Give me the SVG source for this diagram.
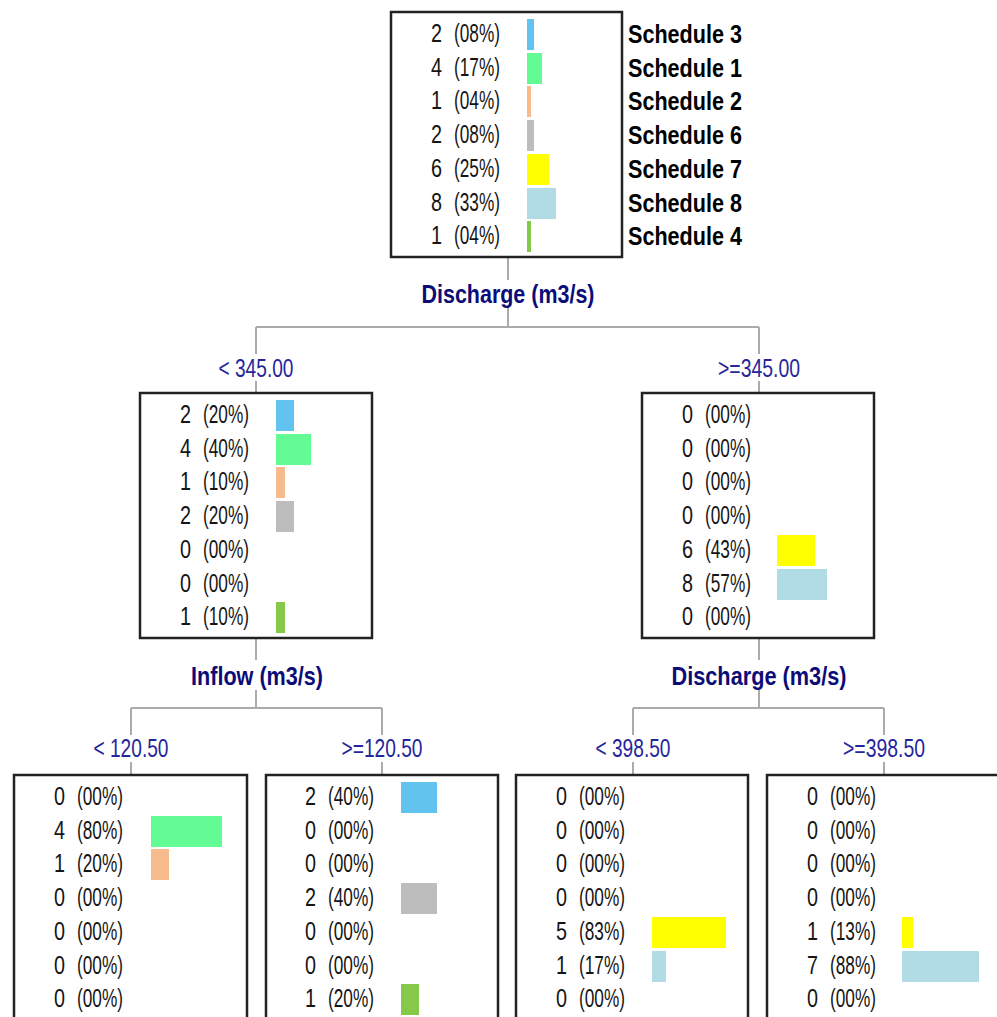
<svg xmlns="http://www.w3.org/2000/svg" width="997" height="1017" viewBox="0 0 997 1017">
<style>
  .box { fill: #ffffff; stroke: #222222; stroke-width: 2.5; }
  .n { font-family: "Liberation Sans", Arial, sans-serif; font-size: 25px; fill: #151515; }
  .leg { font-family: "Liberation Sans", Arial, sans-serif; font-size: 26px; font-weight: bold; fill: #000000; }
  .split { font-family: "Liberation Sans", Arial, sans-serif; font-size: 26px; font-weight: bold; fill: #0c0c78; text-anchor: middle; }
  .thr { font-family: "Liberation Sans", Arial, sans-serif; font-size: 26px; fill: #26269c; text-anchor: middle; }
  .conn { stroke: #ababab; stroke-width: 2; fill: none; }
  .s3 { fill: #62c4ee; }
  .s1 { fill: #62fb94; }
  .s2 { fill: #f7bb8e; }
  .s6 { fill: #bdbdbd; }
  .s7 { fill: #ffff00; }
  .s8 { fill: #b1dbe5; }
  .s4 { fill: #86c94a; }
</style>

<!-- tree connectors -->
<g id="connectors" class="conn">
  <path d="M508 257 V280 M508 306 V327 M256 327 H759 M256 327 V354 M759 327 V354 M256 381 V393 M759 381 V393"/>
  <path d="M256 638 V660 M256 690 V708 M131 708 H382 M131 708 V735 M382 708 V735 M131 762 V775 M382 762 V775"/>
  <path d="M759 638 V660 M759 690 V708 M633 708 H884 M633 708 V735 M884 708 V735 M633 762 V775 M884 762 V775"/>
</g>

<!-- split labels -->
<g id="labels">
  <text class="split" x="508" y="303" textLength="173" lengthAdjust="spacingAndGlyphs">Discharge (m3/s)</text>
  <text class="thr" x="256" y="377" textLength="75" lengthAdjust="spacingAndGlyphs">&lt; 345.00</text>
  <text class="thr" x="759" y="377" textLength="82" lengthAdjust="spacingAndGlyphs">&gt;=345.00</text>
  <text class="split" x="257" y="685" textLength="132" lengthAdjust="spacingAndGlyphs">Inflow (m3/s)</text>
  <text class="split" x="759" y="685" textLength="175" lengthAdjust="spacingAndGlyphs">Discharge (m3/s)</text>
  <text class="thr" x="131" y="757" textLength="75" lengthAdjust="spacingAndGlyphs">&lt; 120.50</text>
  <text class="thr" x="382" y="757" textLength="81" lengthAdjust="spacingAndGlyphs">&gt;=120.50</text>
  <text class="thr" x="633" y="757" textLength="75" lengthAdjust="spacingAndGlyphs">&lt; 398.50</text>
  <text class="thr" x="884" y="757" textLength="82" lengthAdjust="spacingAndGlyphs">&gt;=398.50</text>
</g>

<!-- root node -->
<g id="node-root">
  <rect class="box" x="391" y="12" width="231" height="245"/>
  <rect class="s3" x="527" y="19" width="7" height="31"/>
  <rect class="s1" x="527" y="53" width="15" height="31"/>
  <rect class="s2" x="527" y="86" width="4" height="31"/>
  <rect class="s6" x="527" y="120" width="7" height="31"/>
  <rect class="s7" x="527" y="154" width="22" height="31"/>
  <rect class="s8" x="527" y="188" width="29" height="31"/>
  <rect class="s4" x="527" y="221" width="4" height="31"/>
  <g class="n" transform="translate(0,-1)">
    <text x="431" y="43" textLength="11" lengthAdjust="spacingAndGlyphs">2</text><text x="454" y="43" textLength="46" lengthAdjust="spacingAndGlyphs">(08%)</text>
    <text x="431" y="77" textLength="11" lengthAdjust="spacingAndGlyphs">4</text><text x="454" y="77" textLength="46" lengthAdjust="spacingAndGlyphs">(17%)</text>
    <text x="431" y="110" textLength="11" lengthAdjust="spacingAndGlyphs">1</text><text x="454" y="110" textLength="46" lengthAdjust="spacingAndGlyphs">(04%)</text>
    <text x="431" y="144" textLength="11" lengthAdjust="spacingAndGlyphs">2</text><text x="454" y="144" textLength="46" lengthAdjust="spacingAndGlyphs">(08%)</text>
    <text x="431" y="178" textLength="11" lengthAdjust="spacingAndGlyphs">6</text><text x="454" y="178" textLength="46" lengthAdjust="spacingAndGlyphs">(25%)</text>
    <text x="431" y="212" textLength="11" lengthAdjust="spacingAndGlyphs">8</text><text x="454" y="212" textLength="46" lengthAdjust="spacingAndGlyphs">(33%)</text>
    <text x="431" y="245" textLength="11" lengthAdjust="spacingAndGlyphs">1</text><text x="454" y="245" textLength="46" lengthAdjust="spacingAndGlyphs">(04%)</text>
  </g>
  <g class="leg">
    <text x="628" y="43" textLength="114" lengthAdjust="spacingAndGlyphs">Schedule 3</text>
    <text x="628" y="77" textLength="114" lengthAdjust="spacingAndGlyphs">Schedule 1</text>
    <text x="628" y="110" textLength="114" lengthAdjust="spacingAndGlyphs">Schedule 2</text>
    <text x="628" y="144" textLength="114" lengthAdjust="spacingAndGlyphs">Schedule 6</text>
    <text x="628" y="178" textLength="114" lengthAdjust="spacingAndGlyphs">Schedule 7</text>
    <text x="628" y="212" textLength="114" lengthAdjust="spacingAndGlyphs">Schedule 8</text>
    <text x="628" y="245" textLength="114" lengthAdjust="spacingAndGlyphs">Schedule 4</text>
  </g>
</g>

<!-- discharge < 345.00 -->
<g id="node-l">
  <rect class="box" x="140" y="393" width="232" height="245"/>
  <rect class="s3" x="276" y="400" width="18" height="31"/>
  <rect class="s1" x="276" y="434" width="35" height="31"/>
  <rect class="s2" x="276" y="467" width="9" height="31"/>
  <rect class="s6" x="276" y="501" width="18" height="31"/>
  <rect class="s4" x="276" y="602" width="9" height="31"/>
  <g class="n" transform="translate(0,-1)">
    <text x="180" y="424" textLength="11" lengthAdjust="spacingAndGlyphs">2</text><text x="203" y="424" textLength="46" lengthAdjust="spacingAndGlyphs">(20%)</text>
    <text x="180" y="458" textLength="11" lengthAdjust="spacingAndGlyphs">4</text><text x="203" y="458" textLength="46" lengthAdjust="spacingAndGlyphs">(40%)</text>
    <text x="180" y="491" textLength="11" lengthAdjust="spacingAndGlyphs">1</text><text x="203" y="491" textLength="46" lengthAdjust="spacingAndGlyphs">(10%)</text>
    <text x="180" y="525" textLength="11" lengthAdjust="spacingAndGlyphs">2</text><text x="203" y="525" textLength="46" lengthAdjust="spacingAndGlyphs">(20%)</text>
    <text x="180" y="559" textLength="11" lengthAdjust="spacingAndGlyphs">0</text><text x="203" y="559" textLength="46" lengthAdjust="spacingAndGlyphs">(00%)</text>
    <text x="180" y="593" textLength="11" lengthAdjust="spacingAndGlyphs">0</text><text x="203" y="593" textLength="46" lengthAdjust="spacingAndGlyphs">(00%)</text>
    <text x="180" y="626" textLength="11" lengthAdjust="spacingAndGlyphs">1</text><text x="203" y="626" textLength="46" lengthAdjust="spacingAndGlyphs">(10%)</text>
  </g>
</g>

<!-- discharge >= 345.00 -->
<g id="node-r">
  <rect class="box" x="642" y="393" width="232" height="245"/>
  <rect class="s7" x="777" y="535" width="38" height="31"/>
  <rect class="s8" x="777" y="569" width="50" height="31"/>
  <g class="n" transform="translate(0,-1)">
    <text x="682" y="424" textLength="11" lengthAdjust="spacingAndGlyphs">0</text><text x="705" y="424" textLength="46" lengthAdjust="spacingAndGlyphs">(00%)</text>
    <text x="682" y="458" textLength="11" lengthAdjust="spacingAndGlyphs">0</text><text x="705" y="458" textLength="46" lengthAdjust="spacingAndGlyphs">(00%)</text>
    <text x="682" y="491" textLength="11" lengthAdjust="spacingAndGlyphs">0</text><text x="705" y="491" textLength="46" lengthAdjust="spacingAndGlyphs">(00%)</text>
    <text x="682" y="525" textLength="11" lengthAdjust="spacingAndGlyphs">0</text><text x="705" y="525" textLength="46" lengthAdjust="spacingAndGlyphs">(00%)</text>
    <text x="682" y="559" textLength="11" lengthAdjust="spacingAndGlyphs">6</text><text x="705" y="559" textLength="46" lengthAdjust="spacingAndGlyphs">(43%)</text>
    <text x="682" y="593" textLength="11" lengthAdjust="spacingAndGlyphs">8</text><text x="705" y="593" textLength="46" lengthAdjust="spacingAndGlyphs">(57%)</text>
    <text x="682" y="626" textLength="11" lengthAdjust="spacingAndGlyphs">0</text><text x="705" y="626" textLength="46" lengthAdjust="spacingAndGlyphs">(00%)</text>
  </g>
</g>

<!-- inflow < 120.50 -->
<g id="node-ll">
  <rect class="box" x="14" y="775" width="233" height="250"/>
  <rect class="s1" x="151" y="816" width="71" height="31"/>
  <rect class="s2" x="151" y="849" width="18" height="31"/>
  <g class="n" transform="translate(0,-1)">
    <text x="54" y="806" textLength="11" lengthAdjust="spacingAndGlyphs">0</text><text x="77" y="806" textLength="46" lengthAdjust="spacingAndGlyphs">(00%)</text>
    <text x="54" y="840" textLength="11" lengthAdjust="spacingAndGlyphs">4</text><text x="77" y="840" textLength="46" lengthAdjust="spacingAndGlyphs">(80%)</text>
    <text x="54" y="873" textLength="11" lengthAdjust="spacingAndGlyphs">1</text><text x="77" y="873" textLength="46" lengthAdjust="spacingAndGlyphs">(20%)</text>
    <text x="54" y="907" textLength="11" lengthAdjust="spacingAndGlyphs">0</text><text x="77" y="907" textLength="46" lengthAdjust="spacingAndGlyphs">(00%)</text>
    <text x="54" y="941" textLength="11" lengthAdjust="spacingAndGlyphs">0</text><text x="77" y="941" textLength="46" lengthAdjust="spacingAndGlyphs">(00%)</text>
    <text x="54" y="975" textLength="11" lengthAdjust="spacingAndGlyphs">0</text><text x="77" y="975" textLength="46" lengthAdjust="spacingAndGlyphs">(00%)</text>
    <text x="54" y="1008" textLength="11" lengthAdjust="spacingAndGlyphs">0</text><text x="77" y="1008" textLength="46" lengthAdjust="spacingAndGlyphs">(00%)</text>
  </g>
</g>

<!-- inflow >= 120.50 -->
<g id="node-lr">
  <rect class="box" x="266" y="775" width="232" height="250"/>
  <rect class="s3" x="401" y="782" width="36" height="31"/>
  <rect class="s6" x="401" y="883" width="36" height="31"/>
  <rect class="s4" x="401" y="984" width="18" height="31"/>
  <g class="n" transform="translate(0,-1)">
    <text x="305" y="806" textLength="11" lengthAdjust="spacingAndGlyphs">2</text><text x="328" y="806" textLength="46" lengthAdjust="spacingAndGlyphs">(40%)</text>
    <text x="305" y="840" textLength="11" lengthAdjust="spacingAndGlyphs">0</text><text x="328" y="840" textLength="46" lengthAdjust="spacingAndGlyphs">(00%)</text>
    <text x="305" y="873" textLength="11" lengthAdjust="spacingAndGlyphs">0</text><text x="328" y="873" textLength="46" lengthAdjust="spacingAndGlyphs">(00%)</text>
    <text x="305" y="907" textLength="11" lengthAdjust="spacingAndGlyphs">2</text><text x="328" y="907" textLength="46" lengthAdjust="spacingAndGlyphs">(40%)</text>
    <text x="305" y="941" textLength="11" lengthAdjust="spacingAndGlyphs">0</text><text x="328" y="941" textLength="46" lengthAdjust="spacingAndGlyphs">(00%)</text>
    <text x="305" y="975" textLength="11" lengthAdjust="spacingAndGlyphs">0</text><text x="328" y="975" textLength="46" lengthAdjust="spacingAndGlyphs">(00%)</text>
    <text x="305" y="1008" textLength="11" lengthAdjust="spacingAndGlyphs">1</text><text x="328" y="1008" textLength="46" lengthAdjust="spacingAndGlyphs">(20%)</text>
  </g>
</g>

<!-- discharge < 398.50 -->
<g id="node-rl">
  <rect class="box" x="516" y="775" width="232" height="250"/>
  <rect class="s7" x="652" y="917" width="74" height="31"/>
  <rect class="s8" x="652" y="951" width="14" height="31"/>
  <g class="n" transform="translate(0,-1)">
    <text x="556" y="806" textLength="11" lengthAdjust="spacingAndGlyphs">0</text><text x="579" y="806" textLength="46" lengthAdjust="spacingAndGlyphs">(00%)</text>
    <text x="556" y="840" textLength="11" lengthAdjust="spacingAndGlyphs">0</text><text x="579" y="840" textLength="46" lengthAdjust="spacingAndGlyphs">(00%)</text>
    <text x="556" y="873" textLength="11" lengthAdjust="spacingAndGlyphs">0</text><text x="579" y="873" textLength="46" lengthAdjust="spacingAndGlyphs">(00%)</text>
    <text x="556" y="907" textLength="11" lengthAdjust="spacingAndGlyphs">0</text><text x="579" y="907" textLength="46" lengthAdjust="spacingAndGlyphs">(00%)</text>
    <text x="556" y="941" textLength="11" lengthAdjust="spacingAndGlyphs">5</text><text x="579" y="941" textLength="46" lengthAdjust="spacingAndGlyphs">(83%)</text>
    <text x="556" y="975" textLength="11" lengthAdjust="spacingAndGlyphs">1</text><text x="579" y="975" textLength="46" lengthAdjust="spacingAndGlyphs">(17%)</text>
    <text x="556" y="1008" textLength="11" lengthAdjust="spacingAndGlyphs">0</text><text x="579" y="1008" textLength="46" lengthAdjust="spacingAndGlyphs">(00%)</text>
  </g>
</g>

<!-- discharge >= 398.50 -->
<g id="node-rr">
  <rect class="box" x="767" y="775" width="234" height="250"/>
  <rect class="s7" x="902" y="917" width="11" height="31"/>
  <rect class="s8" x="902" y="951" width="77" height="31"/>
  <g class="n" transform="translate(0,-1)">
    <text x="807" y="806" textLength="11" lengthAdjust="spacingAndGlyphs">0</text><text x="830" y="806" textLength="46" lengthAdjust="spacingAndGlyphs">(00%)</text>
    <text x="807" y="840" textLength="11" lengthAdjust="spacingAndGlyphs">0</text><text x="830" y="840" textLength="46" lengthAdjust="spacingAndGlyphs">(00%)</text>
    <text x="807" y="873" textLength="11" lengthAdjust="spacingAndGlyphs">0</text><text x="830" y="873" textLength="46" lengthAdjust="spacingAndGlyphs">(00%)</text>
    <text x="807" y="907" textLength="11" lengthAdjust="spacingAndGlyphs">0</text><text x="830" y="907" textLength="46" lengthAdjust="spacingAndGlyphs">(00%)</text>
    <text x="807" y="941" textLength="11" lengthAdjust="spacingAndGlyphs">1</text><text x="830" y="941" textLength="46" lengthAdjust="spacingAndGlyphs">(13%)</text>
    <text x="807" y="975" textLength="11" lengthAdjust="spacingAndGlyphs">7</text><text x="830" y="975" textLength="46" lengthAdjust="spacingAndGlyphs">(88%)</text>
    <text x="807" y="1008" textLength="11" lengthAdjust="spacingAndGlyphs">0</text><text x="830" y="1008" textLength="46" lengthAdjust="spacingAndGlyphs">(00%)</text>
  </g>
</g>
</svg>
